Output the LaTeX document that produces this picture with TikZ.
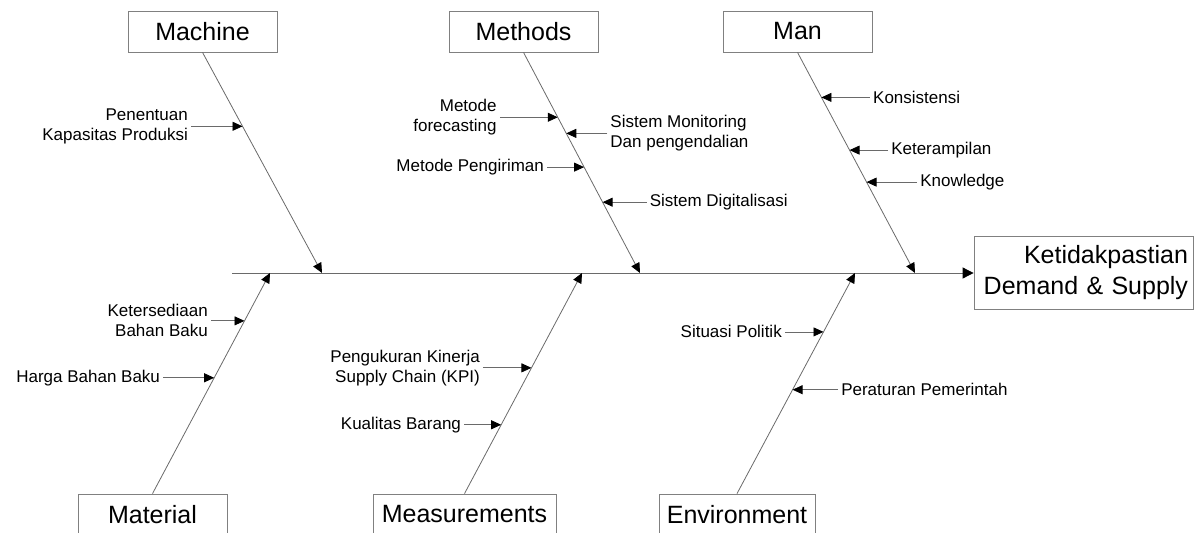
\documentclass[tikz,border=0pt]{standalone}
\usepackage{fontspec}
\setmainfont{Liberation Sans}
\usetikzlibrary{arrows.meta,positioning}
\definecolor{ribgray}{HTML}{6A6A6A}
\definecolor{boxgray}{HTML}{808080}

\begin{document}
\begin{tikzpicture}[x=1pt,y=-1pt,
    catbox/.style={draw=boxgray,line width=0.8pt,inner sep=0pt,minimum height=41pt,
                   font=\fontsize{25}{31}\selectfont},
    cause/.style={inner sep=3pt,font=\fontsize{17}{20}\selectfont},
    rib/.style={draw=ribgray,line width=0.8pt,-{Triangle[length=10pt,width=9pt,color=black]}}]
  \useasboundingbox (0,0) rectangle (1200,533);
  \clip (0,0) rectangle (1200,533);

  % categories
  \node[catbox,minimum width=149pt] (machine) at (202.5,31.5) {Machine};
  \node[catbox,minimum width=149pt] (methods) at (523.5,31.5) {Methods};
  \node[catbox,minimum width=149pt] (man) at (797.5,31.5) {Man};
  \node[catbox,minimum width=149pt] (material) at (152.5,514.5) {Material};
  \node[catbox,minimum width=183pt] (measure) at (464.5,514.5) {Measurements};
  \node[catbox,minimum width=156pt] (environ) at (737,514.5) {Environment};
  \node[catbox,minimum height=73pt,text width=209pt,inner sep=5pt,align=right]
    (effect) at (1083.5,273) {Ketidakpastian\\Demand \& Supply};

  % spine
  \coordinate (tail) at (232,273);
  \draw[rib,-{Triangle[length=11pt,width=11pt,color=black]}] (tail) -- (effect.west);

  % bones
  \coordinate (machtip) at (322,273);
  \coordinate (methtip) at (640,273);
  \coordinate (mantip) at (915,273);
  \coordinate (mattip) at (270,273);
  \coordinate (meastip) at (582,273);
  \coordinate (envtip) at (855,273);
  \draw[rib] (machine.south) -- coordinate[pos=0.335] (mach1) (machtip);
  \draw[rib] (methods.south) -- coordinate[pos=0.294] (meth1) coordinate[pos=0.367] (meth2)
    coordinate[pos=0.520] (meth3) coordinate[pos=0.679] (meth4) (methtip);
  \draw[rib] (man.south) -- coordinate[pos=0.204] (man1) coordinate[pos=0.443] (man2)
    coordinate[pos=0.588] (man3) (mantip);
  \draw[rib] (material.north) -- coordinate[pos=0.525] (mat1) coordinate[pos=0.783] (mat2) (mattip);
  \draw[rib] (measure.north) -- coordinate[pos=0.312] (meas1) coordinate[pos=0.570] (meas2) (meastip);
  \draw[rib] (environ.north) -- coordinate[pos=0.471] (env1) coordinate[pos=0.733] (env2) (envtip);

  % causes
  \node[cause,left=51.5pt of mach1,align=right] (kapasitas) {Penentuan\\Kapasitas Produksi};
  \node[cause,left=58pt of meth1,align=right] (forecast) {Metode\\forecasting};
  \node[cause,right=41pt of meth2,align=left] (monitor) {Sistem Monitoring\\Dan pengendalian};
  \node[cause,left=37pt of meth3] (kirim) {Metode Pengiriman};
  \node[cause,right=44pt of meth4] (digital) {Sistem Digitalisasi};
  \node[cause,right=48.5pt of man1] (konsisten) {Konsistensi};
  \node[cause,right=38.5pt of man2] (terampil) {Keterampilan};
  \node[cause,right=50.5pt of man3] (knowledge) {Knowledge};
  \node[cause,left=51pt of mat1] (harga) {Harga Bahan Baku};
  \node[cause,left=33.5pt of mat2,align=right] (sedia) {Ketersediaan\\Bahan Baku};
  \node[cause,left=37pt of meas1] (kualitas) {Kualitas Barang};
  \node[cause,left=48.5pt of meas2,align=right] (kinerja) {Pengukuran Kinerja\\Supply Chain (KPI)};
  \node[cause,right=45.5pt of env1] (aturan) {Peraturan Pemerintah};
  \node[cause,left=38.5pt of env2] (politik) {Situasi Politik};

  \draw[rib] (kapasitas) -- (mach1);
  \draw[rib] (forecast) -- (meth1);
  \draw[rib] (monitor) -- (meth2);
  \draw[rib] (kirim) -- (meth3);
  \draw[rib] (digital) -- (meth4);
  \draw[rib] (konsisten) -- (man1);
  \draw[rib] (terampil) -- (man2);
  \draw[rib] (knowledge) -- (man3);
  \draw[rib] (harga) -- (mat1);
  \draw[rib] (sedia) -- (mat2);
  \draw[rib] (kualitas) -- (meas1);
  \draw[rib] (kinerja) -- (meas2);
  \draw[rib] (aturan) -- (env1);
  \draw[rib] (politik) -- (env2);
\end{tikzpicture}
\end{document}
